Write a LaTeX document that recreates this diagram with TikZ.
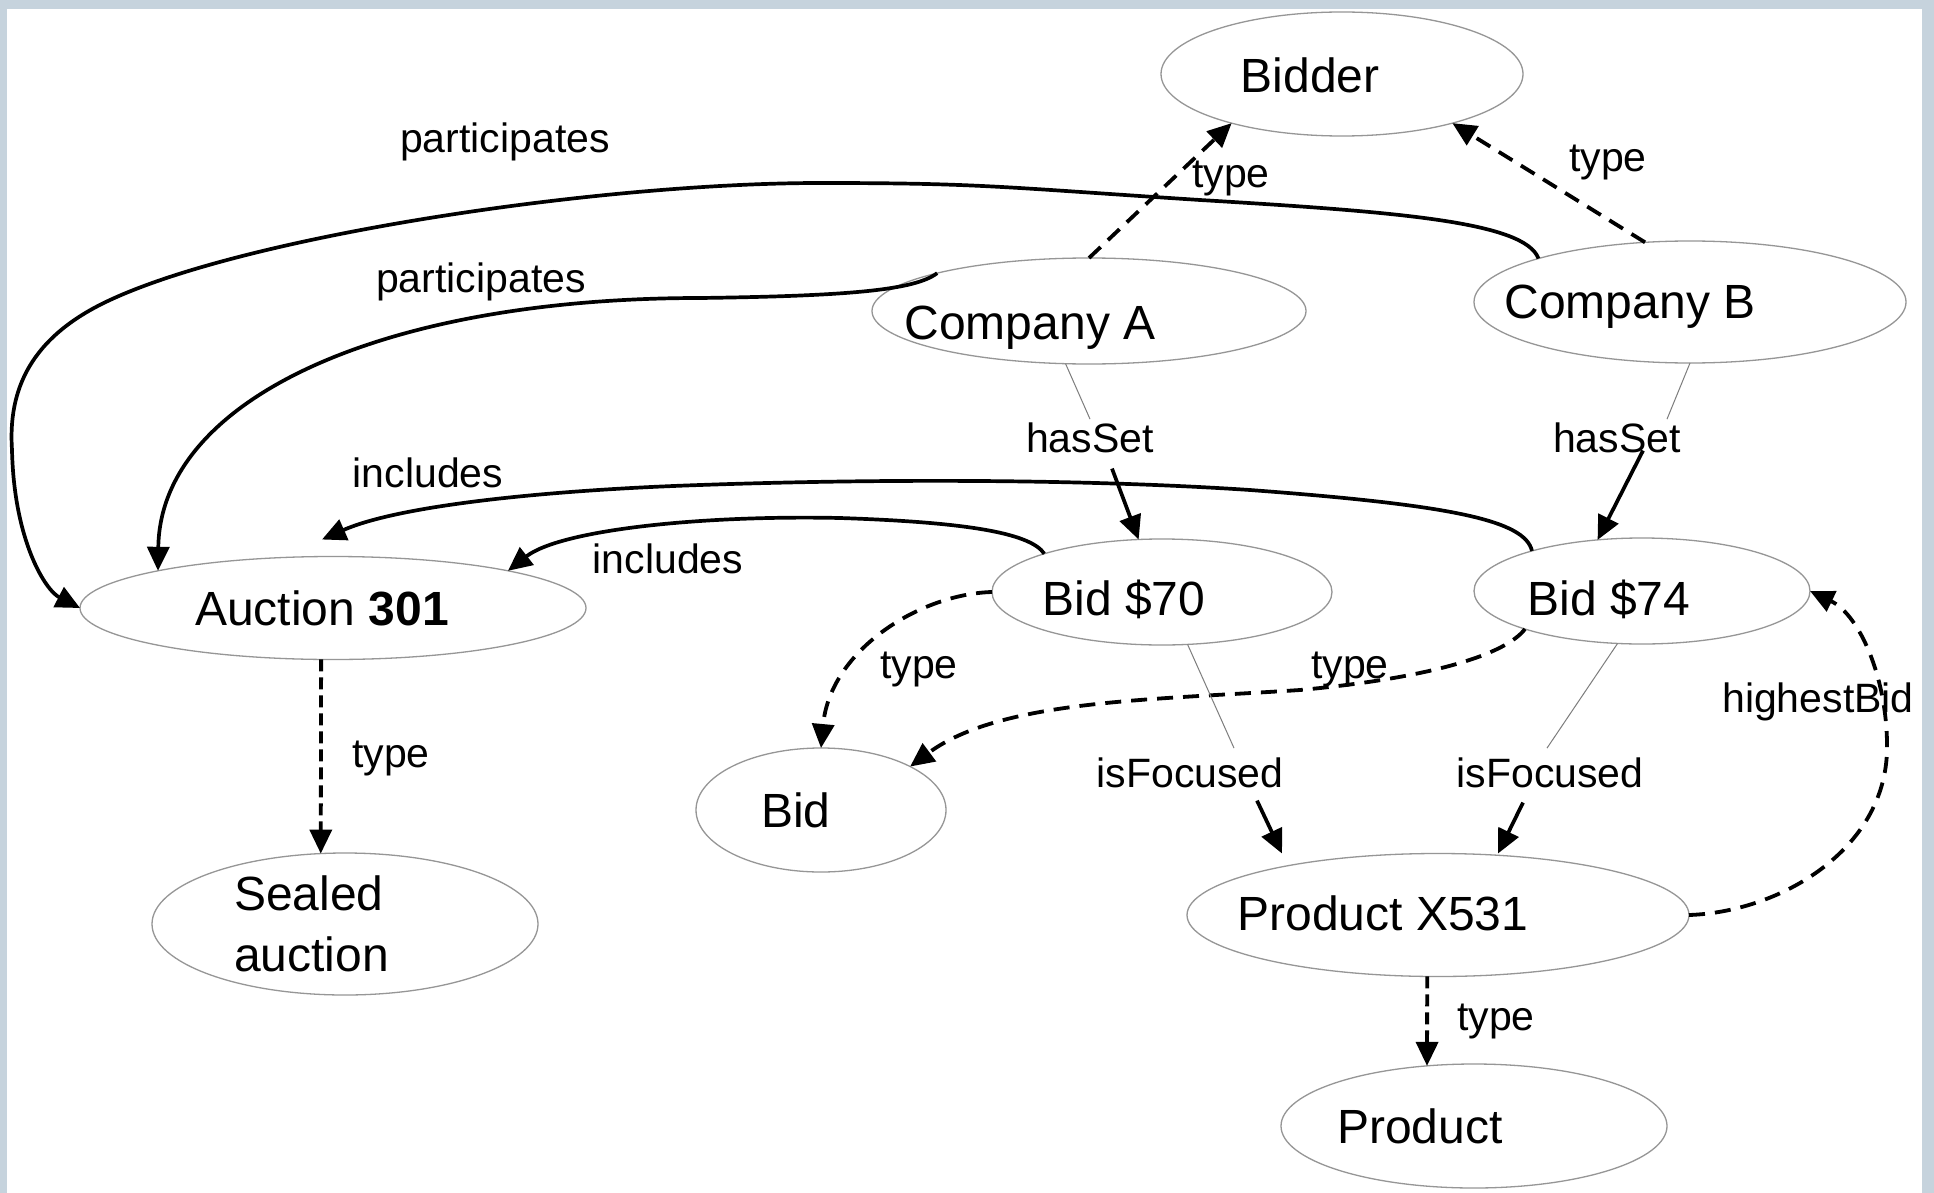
\documentclass[tikz,border=0pt]{standalone}
\usepackage{fontspec}
\setmainfont{Liberation Sans}
\usetikzlibrary{arrows.meta,calc,shapes.geometric}
\definecolor{bgblue}{RGB}{198,211,221}
\definecolor{nodeline}{RGB}{150,150,150}
\definecolor{thinline}{RGB}{125,125,125}
\begin{document}
\begin{tikzpicture}[x=1pt,y=-1pt,
  ell/.style={ellipse, draw=nodeline, line width=1.3pt, inner sep=0pt, outer sep=0pt},
  ntext/.style={anchor=base, inner sep=0pt, font=\fontsize{48}{61}\selectfont},
  elabel/.style={anchor=base, inner sep=3pt, font=\fontsize{41}{49}\selectfont},
  tip/.style={-{Triangle[length=24pt,width=22pt]}},
  rel/.style={line width=3.7pt, tip},
  dashrel/.style={line width=3.8pt, dash pattern=on 16pt off 10pt, tip},
  vdashrel/.style={line width=3.8pt, dash pattern=on 12pt off 6pt, tip},
  thinrel/.style={draw=thinline, line width=1pt}
]
\fill[bgblue] (0,0) rectangle (1934,1193);
\fill[white] (7,9) rectangle (1922,1193);
\useasboundingbox (0,0) rectangle (1934,1193);

% ellipses
\node[ell, minimum width=362pt, minimum height=124pt] (bidder) at (1342,74) {};
\node[ell, minimum width=434pt, minimum height=106pt] (compA) at (1089,311) {};
\node[ell, minimum width=432pt, minimum height=122pt] (compB) at (1690,302) {};
\node[ell, minimum width=506pt, minimum height=103pt] (auction) at (333,608) {};
\node[ell, minimum width=340pt, minimum height=106pt] (bid70) at (1162,592) {};
\node[ell, minimum width=336pt, minimum height=106pt] (bid74) at (1642,591) {};
\node[ell, minimum width=250pt, minimum height=124pt] (bid) at (821,810) {};
\node[ell, minimum width=386pt, minimum height=142pt] (sealed) at (345,924) {};
\node[ell, minimum width=502pt, minimum height=123pt] (px) at (1438,915) {};
\node[ell, minimum width=386pt, minimum height=124pt] (product) at (1474,1126) {};

% node texts
\node[ntext] (tbidder) at (1310,93) {Bidder};
\node[ntext] (tcompA) at (1030,339) {Company A};
\node[ntext] (tcompB) at (1630,318) {Company B};
\node[ntext] (tauction) at (322,625) {Auction \textbf{301}};
\node[ntext] (tbid70) at (1124,615) {Bid \$70};
\node[ntext] (tbid74) at (1609,615) {Bid \$74};
\node[ntext] (tbid) at (796,827) {Bid};
\node[ntext, anchor=north west, align=left] (tsealed) at (234,876) {Sealed\\auction};
\node[ntext] (tpx) at (1383,930) {Product X531};
\node[ntext] (tproduct) at (1420,1143) {Product};

% edge labels
\node[elabel] (lpart1) at (505,153) {participates};
\node[elabel] (lpart2) at (481,292) {participates};
\node[elabel] (linc1) at (428,487) {includes};
\node[elabel] (linc2) at (668,573) {includes};
\node[elabel] (ltypeA) at (1231,188) {type};
\node[elabel] (ltypeB) at (1608,172) {type};
\node[elabel] (hs1) at (1090,452) {hasSet};
\node[elabel] (hs2) at (1617,452) {hasSet};
\node[elabel] (ltype70) at (919,678) {type};
\node[elabel] (ltype74) at (1350,678) {type};
\node[elabel] (if1) at (1190,787) {isFocused};
\node[elabel] (if2) at (1550,787) {isFocused};
\node[elabel] (lhigh) at (1818,712) {highestBid};
\node[elabel] (ltypeS) at (391,767) {type};
\node[elabel] (ltypeP) at (1496,1030) {type};

% participates (Company B -> Auction)
\draw[rel] (compB.164) .. controls (1525,222) and (1400,212) .. (1200,200)
  .. controls (1000,187) and (980,183) .. (820,183)
  .. controls (600,183) and (250,235) .. (110,300)
  .. controls (30,337) and (8,390) .. (12,450)
  .. controls (14,540) and (45,590) .. (auction.west);
% participates (Company A -> Auction)
\draw[rel] (compA.166) .. controls (915,290) and (850,296) .. (700,298)
  .. controls (380,298) and (160,400) .. (auction.168);
% includes (Bid $74 -> Auction)
\draw[rel] (bid74.160) .. controls (1525,520) and (1450,505) .. (1250,490)
  .. controls (1100,480) and (900,478) .. (700,485)
  .. controls (550,490) and (400,505) .. ($(auction.north)+(-11,-17)$);
% includes (Bid $70 -> Auction)
\draw[rel] (bid70.162) .. controls (1030,532) and (960,522) .. (840,518)
  .. controls (700,515) and (560,530) .. (auction.12);

% type to Bidder
\draw[dashrel] (compA.90) -- (bidder.204);
\draw[dashrel] (compB.127) -- (bidder.336);

% hasSet
\draw[thinrel] (compA.246) -- (hs1.north);
\draw[rel] ($(hs1.south)+(22,13)$) -- (bid70.114);
\draw[thinrel] (compB.270) -- ($(hs2.north)+(50,0)$);
\draw[rel] ($(hs2.south)+(26,-5)$) -- (bid74.131);

% type to Bid
\draw[dashrel] (bid70.180) .. controls (920,594) and (830,650) .. (bid.90);
\draw[dashrel] (bid74.198) .. controls (1505,655) and (1430,678) .. (1300,690)
  .. controls (1150,700) and (1000,700) .. (bid.26);

% isFocused
\draw[thinrel] (bid70.296) -- ($(if1.north)+(44,-6)$);
\draw[rel] ($(if1.south)+(67,10)$) -- ($(px.north)+(-156,0)$);
\draw[thinrel] (bid74.245) -- ($(if2.north)+(-3,-6)$);
\draw[rel] ($(if2.south)+(-27,12)$) -- ($(px.north)+(60,0)$);

% highestBid
\draw[dashrel] (px.0) .. controls (1780,912) and (1885,850) .. (1887,750)
  .. controls (1888,680) and (1860,615) .. (bid74.0);

% vertical type edges
\draw[vdashrel] (auction.257) -- (sealed.109);
\draw[vdashrel] (px.260) -- (product.128);
\end{tikzpicture}
\end{document}
